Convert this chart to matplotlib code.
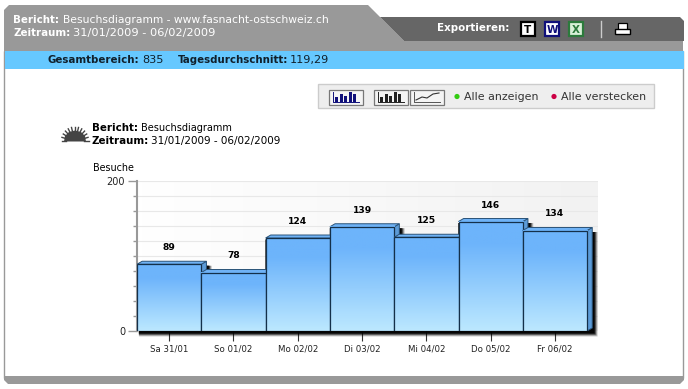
import numpy as np
import matplotlib
matplotlib.use('Agg')
import matplotlib.pyplot as plt
from matplotlib.colors import LinearSegmentedColormap
from matplotlib.patches import Polygon, Rectangle, Circle

# DATOS
dias = ['Sa 31/01', 'So 01/02', 'Mo 02/02', 'Di 03/02', 'Mi 04/02', 'Do 05/02', 'Fr 06/02']
besuche = [89, 78, 124, 139, 125, 146, 134]
y_ticks = [0, 200]
y_minor = [20, 40, 60, 80, 100, 120, 140, 160, 180]

plt.rcParams['font.family'] = 'DejaVu Sans'
fig = plt.figure(figsize=(6.88, 3.89), dpi=100)

# --- marco de la pagina, en pixeles ---
pg = fig.add_axes([0, 0, 1, 1])
pg.set_xlim(0, 688)
pg.set_ylim(389, 0)
pg.axis('off')

pg.add_patch(Rectangle((4, 51), 679, 327, fc='white', ec='#999999', lw=1))
pg.add_patch(Polygon([(4, 51), (4, 10), (9, 5), (368, 5), (404, 41), (683, 41), (683, 51)], fc='#999999', ec='none'))
pg.add_patch(Polygon([(380, 17), (680, 17), (684, 21), (684, 41), (404, 41)], fc='#666666', ec='none'))
pg.add_patch(Rectangle((5, 51), 679, 18, fc='#66c8ff', ec='none'))
pg.add_patch(Polygon([(4, 376), (684, 376), (684, 380), (680, 384), (8, 384), (4, 380)], fc='#999999', ec='none'))


def texto(x, y, s, **kw):
    kw.setdefault('fontsize', 7.4)
    kw.setdefault('va', 'center')
    pg.text(x, y, s, **kw)


texto(13, 19.5, 'Bericht:', color='white', fontweight='bold')
texto(63, 19.5, 'Besuchsdiagramm - www.fasnacht-ostschweiz.ch', color='white', fontsize=7.75)
texto(13, 33, 'Zeitraum:', color='white', fontweight='bold')
texto(73, 33, '31/01/2009 - 06/02/2009', color='white', fontsize=8.2)
texto(48, 60, 'Gesamtbereich:', color='#10202c', fontweight='bold')
texto(142, 60, '835', color='#10202c', fontsize=8.1)
texto(178, 60, 'Tagesdurchschnitt:', color='#10202c', fontweight='bold')
texto(290, 60, '119,29', color='#10202c', fontsize=8.1)
texto(437, 28, 'Exportieren:', color='white', fontweight='bold')

# iconos de exportar
for x0, fondo, borde, letra, col in [(521, 'white', 'black', 'T', 'black'),
                                     (545, 'white', '#10107a', 'W', '#10107a'),
                                     (569, '#d8f0d8', '#2c7a3c', 'X', '#2c7a3c')]:
    pg.add_patch(Rectangle((x0, 22), 14, 14, fc=fondo, ec=borde, lw=1.6))
    texto(x0 + 7, 29.5, letra, color=col, fontweight='bold', fontsize=7.5, ha='center')
pg.plot([601, 601], [21, 37], color='#cccccc', lw=1)
pg.add_patch(Rectangle((618, 23), 9, 7, fc='white', ec='black', lw=0.9))
pg.add_patch(Rectangle((615, 29), 15, 5, fc='white', ec='black', lw=1))

# barra de botones
pg.add_patch(Rectangle((318, 84), 336, 24, fc='#eeeeee', ec='#cccccc', lw=1))
for x0, col in [(329, '#10107a'), (374, '#222222'), (410, None)]:
    pg.add_patch(Rectangle((x0, 89.5), 34, 15, fc='#f4f4f4', ec='#777777', lw=0.9))
    if col:
        for k, h in enumerate([5, 8, 6, 10, 8]):
            pg.add_patch(Rectangle((x0 + 6 + k * 4.5, 101.5 - h), 3, h, fc=col, ec='none'))
        pg.plot([x0 + 4, x0 + 4, x0 + 30], [91.5, 102, 102], color=col, lw=0.7)
    else:
        pg.plot([x0 + 6, x0 + 12, x0 + 17, x0 + 23, x0 + 29], [100, 97, 98, 94, 93], color='#333333', lw=0.8)
        pg.plot([x0 + 4, x0 + 4, x0 + 30], [91.5, 102, 102], color='#555555', lw=0.7)
pg.add_patch(Circle((457, 96.5), 2.6, fc='#33cc11', ec='none'))
pg.add_patch(Circle((554, 96.5), 2.6, fc='#cc0044', ec='none'))
texto(464, 96.5, 'Alle anzeigen', color='#333333', fontsize=7.9)
texto(561, 96.5, 'Alle verstecken', color='#333333', fontsize=7.9)

# icono del sol
pg.add_patch(Polygon([(64, 141.5), (65, 136), (69, 132), (75, 130.5), (81, 132), (85, 136), (86, 141.5)], fc='#444444', ec='none'))
for ang in np.linspace(0, np.pi, 13):
    pg.plot([75 + 9 * np.cos(ang), 75 + 13.5 * np.cos(ang)], [141 - 9 * np.sin(ang), 141 - 14 * np.sin(ang)], color='#444444', lw=1)

texto(92, 127.5, 'Bericht:', color='black', fontweight='bold')
texto(141, 127.5, 'Besuchsdiagramm', color='black', fontsize=7.05)
texto(92, 140.5, 'Zeitraum:', color='black', fontweight='bold')
texto(151, 140.5, '31/01/2009 - 06/02/2009', color='black', fontsize=7.5)
texto(93, 167.5, 'Besuche', color='black', fontsize=6.9)

# --- grafica ---
ax = fig.add_axes([137 / 688, 1 - 331 / 389, 461 / 688, 150 / 389])
ax.patch.set_alpha(0)
xlim = (-0.5, -0.5 + 461 / 64.3)

# fondo con degradado y rejilla
fondo = LinearSegmentedColormap.from_list('fondo', ['#ffffff', '#f2f2f2'])
ax.imshow(np.linspace(0, 1, 100).reshape(1, -1), cmap=fondo, extent=(xlim[0], xlim[1], 0, 200), aspect='auto', zorder=0)
for v in y_minor + [200]:
    ax.axhline(v, color='#e8e8e8', lw=0.8, zorder=1)

barra = LinearSegmentedColormap.from_list('barra', [(0, '#6db4fb'), (0.2, '#6db4fb'), (1, '#bce8ff')])
dx, dy = 0.08, 4

# sombra: silueta escalonada de todas las barras
for w, a in [(5.5, 0.2), (4.5, 0.35), (3.5, 0.6), (2.5, 0.9)]:
    fondo_y = -w * 1.33
    contorno = [(-0.47, fondo_y)]
    for i, v in enumerate(besuche):
        sig = besuche[i + 1] if i + 1 < len(besuche) else 0
        x_der = i + 0.5 + (5 + w) / 64.3
        contorno.append((i - 0.5, v - 2))
        contorno.append((x_der, v - 2))
        if sig < v:
            contorno.append((x_der, max(sig - 2, fondo_y)))
        else:
            contorno[-1] = (i + 0.5, v - 2)
    contorno.append((len(besuche) - 0.5 + (5 + w) / 64.3, fondo_y))
    ax.add_patch(Polygon(contorno, fc='black', ec='none', alpha=a, zorder=2, clip_on=False))

# barras con cara superior y lateral
for i, v in enumerate(besuche):
    x0, x1 = i - 0.5, i + 0.5
    z = 3 + i * 0.1
    ax.add_patch(Polygon([(x1, 0), (x1 + dx, dy), (x1 + dx, v + dy), (x1, v)], fc='#5b9bd8', ec='#2a5378', lw=0.7, zorder=z))
    ax.add_patch(Polygon([(x0, v), (x0 + dx, v + dy), (x1 + dx, v + dy), (x1, v)], fc='#6fb2f5', ec='#2a5378', lw=0.7, zorder=z))
    ax.imshow(np.linspace(0, 1, 100).reshape(-1, 1), cmap=barra, extent=(x0, x1, 0, v), aspect='auto', zorder=z + 0.01)
    ax.add_patch(Rectangle((x0, 0), 1, v, fc='none', ec='#14304a', lw=0.9, zorder=z + 0.02))
    ax.text(i, v + 22, str(v), ha='center', va='center', fontsize=6.6, fontweight='bold', color='black', zorder=10)

ax.set_xlim(*xlim)
ax.set_ylim(0, 200)
for lado in ['top', 'right', 'bottom']:
    ax.spines[lado].set_visible(False)
ax.spines['left'].set_color('#999999')
ax.spines['left'].set_linewidth(1.5)
ax.set_xticks(range(len(dias)))
ax.set_xticklabels(dias, fontsize=6.2, color='#222222')
ax.tick_params(axis='x', length=7, width=0.8, color='#333333', pad=3)
ax.set_yticks(y_ticks)
ax.set_yticklabels([str(v) for v in y_ticks], fontsize=7, color='#222222')
ax.set_yticks(y_minor, minor=True)
ax.tick_params(axis='y', which='major', length=6.5, width=1, color='#999999', pad=2)
ax.tick_params(axis='y', which='minor', length=3, width=1, color='#999999')

fig.savefig('out.png', dpi=100)
